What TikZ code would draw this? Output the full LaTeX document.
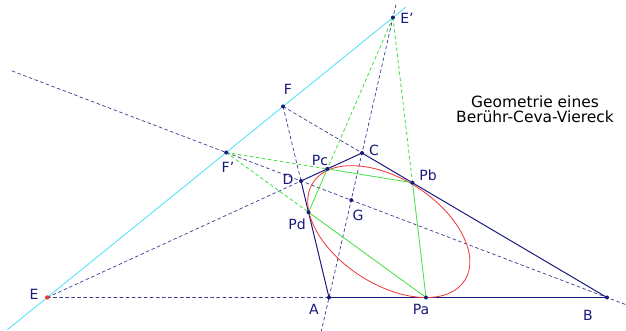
\documentclass[tikz,border=0pt]{standalone}
\usepackage{fontspec}
\setmainfont{DejaVu Sans}
\usetikzlibrary{calc}

\definecolor{navy}{RGB}{25,25,125}
\definecolor{hellgruen}{RGB}{70,225,70}
\definecolor{tuerkis}{RGB}{80,225,250}
\definecolor{rot}{RGB}{240,60,60}

\tikzset{
  seite/.style={navy, line width=0.7pt},
  hilfslinie/.style={navy!85, line width=0.5pt, dash pattern=on 2.5pt off 1.8pt},
  sehne/.style={hellgruen, line width=0.6pt},
  sehnehilfe/.style={hellgruen, line width=0.6pt, dash pattern=on 2.5pt off 1.8pt},
  beschriftung/.style={text=navy, font=\fontsize{10}{12}\selectfont},
}

\begin{document}
\begin{tikzpicture}[x=0.25mm, y=0.25mm]
    \useasboundingbox (0,0) rectangle (626,331);
    %eckpunkte
    \coordinate (A) at (329,33.5);
    \coordinate (B) at (607,33.5);
    \coordinate (C) at (362,178);
    \coordinate (D) at (301,150);
    %diagonalpunkte
    \coordinate (E) at (intersection of A--B and C--D);
    \coordinate (F) at (intersection of A--D and B--C);
    \coordinate (G) at (intersection of A--C and B--D);
    \coordinate (Es) at (intersection of E--F and A--C);
    \coordinate (Fs) at (intersection of E--F and B--D);
    %beruehrpunkte
    \coordinate (Pa) at (426,33.5);
    \coordinate (Pb) at (intersection of Es--Pa and B--C);
    \coordinate (Pd) at (intersection of Fs--Pa and A--D);
    \coordinate (Pc) at (intersection of Fs--Pb and C--D);
    %mittelpunkt ellipse
    \coordinate (M) at (388.8,99.4);

    %gerade EF
    \draw[tuerkis, line width=0.6pt] ($(E)!-0.17!(F)$) -- ($(E)!1.52!(F)$);
    %verlaengerte seiten und diagonalen
    \draw[hilfslinie] ($(B)!-0.06!(D)$) -- ($(B)!1.95!(D)$);
    \draw[hilfslinie] ($(A)!-0.24!(C)$) -- ($(A)!2.03!(C)$);
    \draw[hilfslinie] (E) -- (A);
    \draw[hilfslinie] (E) -- (D);
    \draw[hilfslinie] (F) -- (D);
    \draw[hilfslinie] (F) -- (C);
    %viereck
    \draw[seite] (A) -- (B) -- (C) -- (D) -- cycle;
    %ellipse
    \draw[rot, line width=0.6pt, rotate around={-32.8:(M)}] (M) ellipse [x radius=90.3, y radius=52.6];
    %sehnen
    \draw[sehnehilfe] (Es) -- (Pc);
    \draw[sehnehilfe] (Es) -- (Pb);
    \draw[sehnehilfe] (Fs) -- (Pc);
    \draw[sehnehilfe] (Fs) -- (Pd);
    \draw[sehne] (Pa) -- (Pb) -- (Pc) -- (Pd) -- cycle;
    %punkte
    \foreach \p in {A,B,C,D,F,G,Es,Fs,Pa,Pb,Pc,Pd}
        \fill[navy] (\p) circle (2);
    \fill[rot] (E) circle (2.2);

    %beschriftung
    \node (tA) [beschriftung] at (314,22) {A};
    \node (tB) [beschriftung] at (588,16) {B};
    \node (tC) [beschriftung] at (374,181) {C};
    \node (tD) [beschriftung] at (288,152) {D};
    \node (tE) [beschriftung] at (34,37) {E};
    \node (tF) [beschriftung] at (288,242) {F};
    \node (tG) [beschriftung] at (358,116) {G};
    \node (tEs) [beschriftung] at (407,313) {E'};
    \node (tFs) [beschriftung] at (228,164) {F'};
    \node (tPa) [beschriftung] at (421,22) {Pa};
    \node (tPb) [beschriftung] at (428,156) {Pb};
    \node (tPc) [beschriftung] at (320,171) {Pc};
    \node (tPd) [beschriftung] at (297,107) {Pd};
    %titel
    \node (titel) [align=center, font=\fontsize{11}{10.6}\selectfont] at (535,222) {Geometrie eines\\Berühr-Ceva-Viereck};
\end{tikzpicture}
\end{document}
